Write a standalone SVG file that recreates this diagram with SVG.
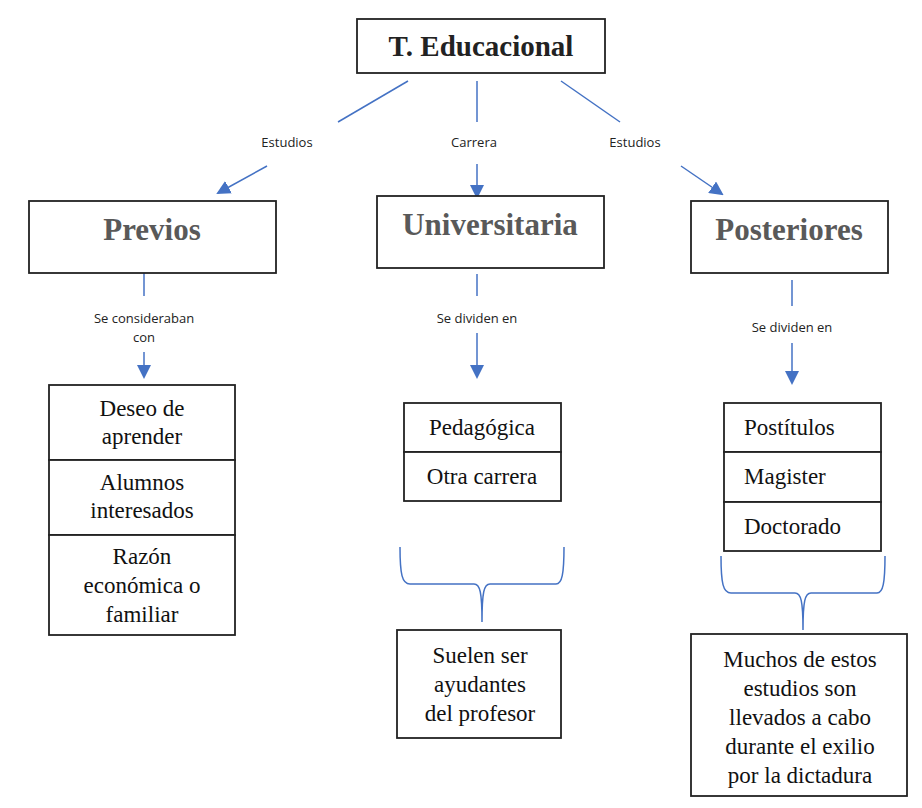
<svg xmlns="http://www.w3.org/2000/svg" width="922" height="808" viewBox="0 0 922 808">
<defs>
<marker id="ah" markerWidth="14" markerHeight="14" refX="12" refY="7" orient="auto" markerUnits="userSpaceOnUse">
<path d="M0,0 L14,7 L0,14 Z" fill="#4472C4"/>
</marker>
<style>
.box{fill:#fff;stroke:#222;stroke-width:1.8}
.ln{stroke:#4472C4;stroke-width:1.5;fill:none}
.arr{stroke:#4472C4;stroke-width:1.5;fill:none;marker-end:url(#ah)}
.hd{font-family:"Liberation Serif",serif;font-weight:bold;font-size:31px;fill:#595959;text-anchor:middle}
.ti{font-family:"Liberation Serif",serif;font-weight:bold;font-size:29px;fill:#222;text-anchor:middle}
.tx{font-family:"Liberation Serif",serif;font-size:23px;fill:#111;text-anchor:middle}
.tl{font-family:"Liberation Serif",serif;font-size:23px;fill:#111}
.lb{font-family:"Open Sans","Noto Sans",sans-serif;font-size:13px;fill:#222;text-anchor:middle}
</style>
</defs>
<rect width="922" height="808" fill="#fff"/>
<g id="connectors">
<line class="ln" x1="408" y1="81" x2="338" y2="122"/>
<line class="arr" x1="267" y1="166" x2="218" y2="193"/>
<line class="ln" x1="477" y1="81" x2="477" y2="122"/>
<line class="arr" x1="477" y1="164" x2="477" y2="197"/>
<line class="ln" x1="561" y1="81" x2="620" y2="122"/>
<line class="arr" x1="681" y1="166" x2="722" y2="194"/>
<line class="ln" x1="144" y1="273" x2="144" y2="296"/>
<line class="arr" x1="144" y1="352" x2="144" y2="377"/>
<line class="ln" x1="477" y1="274" x2="477" y2="296"/>
<line class="arr" x1="477" y1="333" x2="477" y2="377"/>
<line class="ln" x1="792" y1="280" x2="792" y2="306"/>
<line class="arr" x1="792" y1="343" x2="792" y2="383"/>
<path class="ln" d="M400,547 C400,574 402,584 410,584 L474,584 C480,584 482,592 482,622 C482,592 484,584 490,584 L556,584 C562,584 564,574 564,547"/>
<path class="ln" d="M721,556 C721,583 723,593 731,593 L795,593 C801,593 803,601 803,630 C803,601 805,593 811,593 L877,593 C883,593 885,583 885,556"/>
<text class="lb" x="287" y="147">Estudios</text>
<text class="lb" x="474" y="147">Carrera</text>
<text class="lb" x="635" y="147">Estudios</text>
<text class="lb" x="144" y="323">Se consideraban</text>
<text class="lb" x="144" y="342">con</text>
<text class="lb" x="477" y="323">Se dividen en</text>
<text class="lb" x="792" y="332">Se dividen en</text>
</g>
<g id="title">
<rect class="box" x="357" y="19" width="248" height="54"/>
<text class="ti" x="481" y="56">T. Educacional</text>
</g>
<g id="previos">
<rect class="box" x="29" y="201" width="247" height="72"/>
<text class="hd" x="152" y="240">Previos</text>
</g>
<g id="universitaria">
<rect class="box" x="377" y="196" width="227" height="72"/>
<text class="hd" x="490" y="235">Universitaria</text>
</g>
<g id="posteriores">
<rect class="box" x="691" y="201" width="197" height="72"/>
<text class="hd" x="789" y="240">Posteriores</text>
</g>
<g id="previos-list">
<rect class="box" x="49" y="385" width="186" height="75"/>
<rect class="box" x="49" y="460" width="186" height="75"/>
<rect class="box" x="49" y="535" width="186" height="100"/>
<text class="tx" x="142" y="416">Deseo de</text>
<text class="tx" x="142" y="444">aprender</text>
<text class="tx" x="142" y="490">Alumnos</text>
<text class="tx" x="142" y="518">interesados</text>
<text class="tx" x="142" y="564">Razón</text>
<text class="tx" x="142" y="593">económica o</text>
<text class="tx" x="142" y="622">familiar</text>
</g>
<g id="univ-list">
<rect class="box" x="404" y="403" width="157" height="49"/>
<rect class="box" x="404" y="452" width="157" height="49"/>
<text class="tx" x="482" y="435">Pedagógica</text>
<text class="tx" x="482" y="484">Otra carrera</text>
</g>
<g id="post-list">
<rect class="box" x="724" y="403" width="157" height="49"/>
<rect class="box" x="724" y="452" width="157" height="50"/>
<rect class="box" x="724" y="502" width="157" height="49"/>
<text class="tl" x="744" y="435">Postítulos</text>
<text class="tl" x="744" y="484">Magister</text>
<text class="tl" x="744" y="534">Doctorado</text>
</g>
<g id="ayudantes">
<rect class="box" x="397" y="630" width="164" height="108"/>
<text class="tx" x="480" y="663">Suelen ser</text>
<text class="tx" x="480" y="692">ayudantes</text>
<text class="tx" x="480" y="721">del profesor</text>
</g>
<g id="exilio">
<rect class="box" x="691" y="634" width="216" height="162"/>
<text class="tx" x="800" y="667">Muchos de estos</text>
<text class="tx" x="800" y="696">estudios son</text>
<text class="tx" x="800" y="725">llevados a cabo</text>
<text class="tx" x="800" y="754">durante el exilio</text>
<text class="tx" x="800" y="783">por la dictadura</text>
</g>
</svg>
